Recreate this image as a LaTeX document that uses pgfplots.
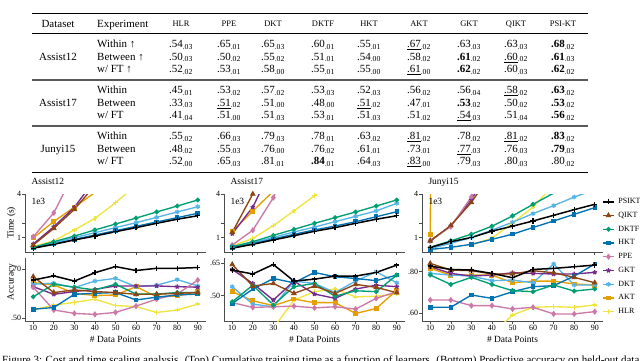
\documentclass[border=0pt]{standalone}
\usepackage{fontspec}
\setmainfont{Liberation Serif}
\usepackage{pgfplots}
\pgfplotsset{compat=1.18}

\definecolor{cPSI}{RGB}{0,0,0}
\definecolor{cQIKT}{RGB}{140,70,20}
\definecolor{cDKTF}{RGB}{0,158,115}
\definecolor{cHKT}{RGB}{0,114,178}
\definecolor{cPPE}{RGB}{204,121,167}
\definecolor{cGKT}{RGB}{118,42,140}
\definecolor{cDKT}{RGB}{86,180,233}
\definecolor{cAKT}{RGB}{230,159,0}
\definecolor{cHLR}{RGB}{240,228,66}

\pgfplotsset{
  ktline/.style={line width=1.35bp},
  sPSI/.style={cPSI, line width=1.5bp, mark=+, mark size=2.6bp, mark options={line width=1.4bp, solid}},
  sQIKT/.style={cQIKT, ktline, mark=triangle*, mark size=2.1bp},
  sDKTF/.style={cDKTF, ktline, mark=*, mark size=1.7bp},
  sHKT/.style={cHKT, ktline, mark=square*, mark size=1.6bp},
  sPPE/.style={cPPE, ktline, mark=diamond*, mark size=2.1bp},
  sGKT/.style={cGKT, ktline, mark=star, mark size=2.3bp},
  sDKT/.style={cDKT, ktline, mark=asterisk, mark size=2.3bp},
  sAKT/.style={cAKT, ktline, mark=square*, mark size=1.8bp},
  sHLR/.style={cHLR, ktline, mark=+, mark size=2.3bp},
  base/.style={
    scale only axis, width=181bp,
    xmin=6, xmax=94,
    axis x line*=bottom, axis y line*=left,
    axis line style={draw=black!70, line width=0.6bp},
    tick style={draw=black!70, line width=0.6bp},
    tick align=outside, major tick length=3bp,
    xtick={10,20,...,90},
    ticklabel style={font=\fontsize{8}{9}\selectfont},
    /pgf/number format/assume math mode=true,
    xticklabel style={inner sep=1bp},
    yticklabel style={inner sep=0.8bp},
    every axis y label/.style={at={(axis description cs:-0.075,0.5)}, rotate=90, anchor=center, font=\fontsize{9.5}{11}\selectfont},
    every axis x label/.style={at={(axis description cs:0.5,0)}, anchor=center, yshift=-18bp, font=\fontsize{9.5}{11}\selectfont},
    title style={at={(axis description cs:0.035,1)}, anchor=base west, yshift=3.5bp, inner sep=0pt, font=\fontsize{9.5}{11}\selectfont},
    clip=true,
  },
  timeax/.style={base, height=58bp, ymin=0, ymax=4, ytick={1,2,4}, yticklabels={1,,4}, xticklabels={},
    extra description/.code={\node[anchor=west, inner sep=0pt, font=\fontsize{9.5}{11}\selectfont] at (axis description cs:0.035,0.867) {1e3};}},
  accax/.style={base, height=63bp, xlabel={\# Data Points}},
}

\newcommand\V[2]{#1\textsubscript{#2}}
\tikzset{tv/.style={font=\fontsize{11}{13}\selectfont, inner sep=0pt, anchor=base},
         th/.style={font=\fontsize{8.5}{10}\selectfont, inner sep=0pt, anchor=base}}
\newcommand\R[9]{%
  \node[tv] at (181,\ry) {#1};
  \node[tv] at (229,\ry) {#2};
  \node[tv] at (273,\ry) {#3};
  \node[tv] at (323,\ry) {#4};
  \node[tv] at (369,\ry) {#5};
  \node[tv] at (419,\ry) {#6};
  \node[tv] at (469,\ry) {#7};
  \node[tv] at (516,\ry) {#8};
  \node[tv] at (563,\ry) {#9};}

\begin{document}
\begin{tikzpicture}
\path[use as bounding box] (0bp,0bp) rectangle (640bp,-361bp);
\clip (0bp,0bp) rectangle (640bp,-361bp);

% ---------- table ----------
\begin{scope}[x=1bp,y=1bp]
\draw[line width=1bp] (32,-13.3) -- (588,-13.3);
\draw[line width=0.5bp] (32,-33) -- (588,-33);
\draw[line width=1.3bp, black!65] (32,-80) -- (588,-80);
\draw[line width=1.3bp, black!65] (32,-126) -- (588,-126);
\draw[line width=1bp] (32,-172) -- (588,-172);

\node[tv] at (58,-27.7) {Dataset};
\node[tv, anchor=base west] at (97,-27.7) {Experiment};
\node[th] at (181,-26.8) {HLR};
\node[th] at (229,-26.8) {PPE};
\node[th] at (273,-26.8) {DKT};
\node[th] at (323,-26.8) {DKTF};
\node[th] at (369,-26.8) {HKT};
\node[th] at (419,-26.8) {AKT};
\node[th] at (469,-26.8) {GKT};
\node[th] at (516,-26.8) {QIKT};
\node[th] at (563,-26.8) {PSI-KT};

\node[tv] at (58,-60.2) {Assist12};
\node[tv, anchor=base west] at (97,-47.7) {Within ↑};
\node[tv, anchor=base west] at (97,-60.2) {Between ↑};
\node[tv, anchor=base west] at (97,-72.7) {w/ FT ↑};
\def\ry{-47.7}
\R{\V{.54}{.03}}{\V{.65}{.01}}{\V{.65}{.03}}{\V{.60}{.01}}{\V{.55}{.01}}{\V{\underline{.67}}{.02}}{\V{.63}{.03}}{\V{.63}{.03}}{\V{\textbf{.68}}{.02}}
\def\ry{-60.2}
\R{\V{.50}{.03}}{\V{.50}{.02}}{\V{.55}{.02}}{\V{.51}{.01}}{\V{.54}{.00}}{\V{.58}{.02}}{\V{\textbf{.61}}{.02}}{\V{\underline{.60}}{.02}}{\V{\textbf{.61}}{.03}}
\def\ry{-72.7}
\R{\V{.52}{.02}}{\V{.53}{.01}}{\V{.58}{.00}}{\V{.55}{.01}}{\V{.55}{.00}}{\V{\underline{.61}}{.00}}{\V{\textbf{.62}}{.02}}{\V{.60}{.03}}{\V{\textbf{.62}}{.02}}

\node[tv] at (58,-106.2) {Assist17};
\node[tv, anchor=base west] at (97,-93.7) {Within};
\node[tv, anchor=base west] at (97,-106.2) {Between};
\node[tv, anchor=base west] at (97,-118.7) {w/ FT};
\def\ry{-93.7}
\R{\V{.45}{.01}}{\V{.53}{.02}}{\V{.57}{.02}}{\V{.53}{.03}}{\V{.52}{.03}}{\V{.56}{.02}}{\V{.56}{.04}}{\V{\underline{.58}}{.02}}{\V{\textbf{.63}}{.02}}
\def\ry{-106.2}
\R{\V{.33}{.03}}{\V{\underline{.51}}{.02}}{\V{.51}{.00}}{\V{.48}{.00}}{\V{\underline{.51}}{.02}}{\V{.47}{.01}}{\V{\textbf{.53}}{.02}}{\V{.50}{.02}}{\V{\textbf{.53}}{.02}}
\def\ry{-118.7}
\R{\V{.41}{.04}}{\V{.51}{.00}}{\V{.51}{.03}}{\V{.53}{.01}}{\V{.51}{.03}}{\V{.51}{.02}}{\V{\underline{.54}}{.03}}{\V{.51}{.04}}{\V{\textbf{.56}}{.02}}

\node[tv] at (58,-152.2) {Junyi15};
\node[tv, anchor=base west] at (97,-139.7) {Within};
\node[tv, anchor=base west] at (97,-152.2) {Between};
\node[tv, anchor=base west] at (97,-164.7) {w/ FT};
\def\ry{-139.7}
\R{\V{.55}{.02}}{\V{.66}{.03}}{\V{.79}{.03}}{\V{.78}{.01}}{\V{.63}{.02}}{\V{\underline{.81}}{.02}}{\V{.78}{.02}}{\V{\underline{.81}}{.02}}{\V{\textbf{.83}}{.02}}
\def\ry{-152.2}
\R{\V{.48}{.02}}{\V{.55}{.03}}{\V{.76}{.00}}{\V{.76}{.02}}{\V{.61}{.01}}{\V{.73}{.01}}{\V{\underline{.77}}{.03}}{\V{.76}{.03}}{\V{\textbf{.79}}{.03}}
\def\ry{-164.7}
\R{\V{.52}{.00}}{\V{.65}{.03}}{\V{.81}{.01}}{\V{\textbf{.84}}{.01}}{\V{.64}{.03}}{\V{\underline{.83}}{.00}}{\V{.79}{.03}}{\V{.80}{.03}}{\V{.80}{.02}}
\end{scope}

% ---------- Assist12 ----------
\begin{axis}[timeax, at={(25bp,-194bp)}, anchor=north west, title={Assist12}, ylabel={Time (s)}]
\addplot[sHLR] coordinates {(10,0.37)(20,0.78)(30,1.52)(40,2.32)(50,3.40)(60,4.6)};
\addplot[sAKT] coordinates {(10,0.97)(20,2.1)(30,3.1)(40,4.1)(50,5.5)};
\addplot[sDKT] coordinates {(10,0.30)(20,0.64)(30,0.99)(40,1.33)(50,1.68)(60,2.02)(70,2.39)(80,2.76)(90,3.12)};
\addplot[sGKT] coordinates {(10,0.55)(20,1.74)(30,3.08)(40,5.0)};
\addplot[sPPE] coordinates {(10,1.05)(20,2.7)(30,5.5)};
\addplot[sHKT] coordinates {(10,0.28)(20,0.55)(30,0.87)(40,1.17)(50,1.47)(60,1.77)(70,2.07)(80,2.37)(90,2.67)};
\addplot[sDKTF] coordinates {(10,0.32)(20,0.71)(30,1.10)(40,1.52)(50,1.93)(60,2.34)(70,2.76)(80,3.17)(90,3.59)};
\addplot[sQIKT] coordinates {(10,0.48)(20,1.63)(30,2.94)(40,4.6)};
\addplot[sPSI] coordinates {(10,0.26)(20,0.53)(30,0.83)(40,1.10)(50,1.40)(60,1.68)(70,1.98)(80,2.26)(90,2.50)};
\end{axis}

\begin{axis}[accax, at={(25bp,-258bp)}, anchor=north west, ymin=0.489, ymax=0.746, ytick={0.5,0.7}, yticklabels={.50,.70},
  ylabel={Accuracy}, every axis y label/.style={at={(axis description cs:-0.075,0.62)}, rotate=90, anchor=center, font=\fontsize{9.5}{11}\selectfont}]
\addplot[sHLR] coordinates {(10,0.534)(20,0.554)(30,0.565)(40,0.578)(50,0.552)(60,0.548)(70,0.524)(80,0.534)(90,0.558)};
\addplot[sAKT] coordinates {(10,0.646)(20,0.636)(30,0.602)(40,0.593)(50,0.595)(60,0.629)(70,0.588)(80,0.591)(90,0.609)};
\addplot[sDKT] coordinates {(10,0.639)(20,0.643)(30,0.625)(40,0.652)(50,0.663)(60,0.629)(70,0.635)(80,0.658)(90,0.632)};
\addplot[sGKT] coordinates {(10,0.629)(20,0.598)(30,0.609)(40,0.618)(50,0.632)(60,0.632)(70,0.632)(80,0.629)(90,0.627)};
\addplot[sPPE] coordinates {(10,0.627)(20,0.534)(30,0.520)(40,0.516)(50,0.524)(60,0.550)(70,0.578)(80,0.599)(90,0.656)};
\addplot[sHKT] coordinates {(10,0.537)(20,0.544)(30,0.598)(40,0.602)(50,0.605)(60,0.575)(70,0.586)(80,0.595)(90,0.599)};
\addplot[sDKTF] coordinates {(10,0.588)(20,0.639)(30,0.627)(40,0.616)(50,0.639)(60,0.599)(70,0.599)(80,0.605)(90,0.605)};
\addplot[sQIKT] coordinates {(10,0.670)(20,0.605)(30,0.616)(40,0.609)(50,0.605)(60,0.598)(70,0.598)(80,0.602)(90,0.605)};
\addplot[sPSI] coordinates {(10,0.656)(20,0.673)(30,0.652)(40,0.686)(50,0.711)(60,0.695)(70,0.704)(80,0.704)(90,0.707)};
\end{axis}

% ---------- Assist17 ----------
\begin{axis}[timeax, at={(224bp,-194bp)}, anchor=north west, title={Assist17}]
\addplot[sHLR] coordinates {(10,0.41)(20,0.93)(30,1.82)(40,2.84)(50,3.88)(60,4.9)};
\addplot[sAKT] coordinates {(10,1.42)(20,2.82)(30,4.2)};
\addplot[sDKT] coordinates {(10,0.32)(20,0.64)(30,1.01)(40,1.38)(50,1.72)(60,2.09)(70,2.46)(80,2.83)(90,3.36)};
\addplot[sGKT] coordinates {(10,1.26)(20,3.1)(30,6)};
\addplot[sPPE] coordinates {(10,0.48)(20,1.5)(30,3.75)(40,7)};
\addplot[sHKT] coordinates {(10,0.30)(20,0.57)(30,0.90)(40,1.22)(50,1.52)(60,1.79)(70,2.09)(80,2.43)(90,2.78)};
\addplot[sDKTF] coordinates {(10,0.37)(20,0.71)(30,1.15)(40,1.56)(50,1.98)(60,2.37)(70,2.76)(80,3.17)(90,3.59)};
\addplot[sQIKT] coordinates {(10,1.35)(20,4.0)(30,7)};
\addplot[sPSI] coordinates {(10,0.26)(20,0.53)(30,0.83)(40,1.12)(50,1.43)(60,1.68)(70,1.98)(80,2.26)(90,2.50)};
\end{axis}

\begin{axis}[accax, at={(224bp,-258bp)}, anchor=north west, ymin=0.383, ymax=0.675, ytick={0.5,0.65}, yticklabels={.50,.65}]
\addplot[sHLR] coordinates {(30,0.35)(40,0.480)(50,0.519)(60,0.531)(70,0.495)(80,0.498)(90,0.508)};
\addplot[sAKT] coordinates {(10,0.519)(20,0.477)(30,0.454)(40,0.485)(50,0.468)(60,0.468)(70,0.418)(80,0.441)(90,0.526)};
\addplot[sDKT] coordinates {(10,0.542)(20,0.461)(30,0.449)(40,0.568)(50,0.557)(60,0.515)(70,0.568)(80,0.611)(90,0.560)};
\addplot[sGKT] coordinates {(10,0.622)(20,0.557)(30,0.480)(40,0.568)(50,0.508)(60,0.488)(70,0.531)(80,0.549)(90,0.542)};
\addplot[sPPE] coordinates {(10,0.468)(20,0.446)(30,0.449)(40,0.452)(50,0.444)(60,0.449)(70,0.438)(80,0.488)(90,0.519)};
\addplot[sHKT] coordinates {(10,0.464)(20,0.531)(30,0.580)(40,0.560)(50,0.608)(60,0.588)(70,0.580)(80,0.570)(90,0.596)};
\addplot[sDKTF] coordinates {(10,0.472)(20,0.549)(30,0.457)(40,0.542)(50,0.557)(60,0.498)(70,0.523)(80,0.519)(90,0.596)};
\addplot[sQIKT] coordinates {(10,0.645)(20,0.545)(30,0.557)(40,0.511)(50,0.545)(60,0.511)(70,0.553)(80,0.539)(90,0.514)};
\addplot[sPSI] coordinates {(10,0.619)(20,0.601)(30,0.645)(40,0.568)(50,0.577)(60,0.591)(70,0.591)(80,0.608)(90,0.642)};
\end{axis}

% ---------- Junyi15 ----------
\begin{axis}[timeax, at={(422bp,-194bp)}, anchor=north west, title={Junyi15},
  reverse legend, legend cell align=left,
  legend image code/.code={\draw[mark repeat=2,mark phase=2,#1] plot coordinates {(0bp,0bp)(5.2bp,0bp)(10.4bp,0bp)};},
  legend style={at={(axis description cs:1,1)}, anchor=north west, xshift=-0.5bp, yshift=-4bp,
    draw=none, fill=none, inner sep=0pt, outer sep=0pt, row sep=6.25bp,
    font=\fontsize{8}{9}\selectfont,
    nodes={inner sep=0pt, text height=5.5bp, text depth=2bp},
    /tikz/every odd column/.append style={column sep=4bp}}]
\addplot[sHLR] coordinates {(30,0.5)(40,0.95)(50,2.0)(60,3.1)(70,4.6)};
\addlegendentry{HLR}
\addplot[sAKT] coordinates {(10,1.2)(20,200)};
\addlegendentry{AKT}
\addplot[sDKT] coordinates {(10,0.23)(20,0.60)(30,1.0)(40,1.51)(50,2.05)(60,2.65)(70,3.2)(80,3.79)(90,4.3)};
\addlegendentry{DKT}
\addplot[sGKT] coordinates {(10,0.75)(20,1.8)(30,3.6)(40,6)};
\addlegendentry{GKT}
\addplot[sPPE] coordinates {(10,0.8)(20,1.75)(30,3.8)(40,6)};
\addlegendentry{PPE}
\addplot[sHKT] coordinates {(10,0.18)(20,0.32)(30,0.53)(40,0.87)(50,1.23)(60,1.69)(70,2.14)(80,2.60)(90,3.06)};
\addlegendentry{HKT}
\addplot[sDKTF] coordinates {(10,0.32)(20,0.77)(30,1.23)(40,1.78)(50,2.49)(60,3.29)(70,4.06)(80,5.0)};
\addlegendentry{DKTF}
\addplot[sQIKT] coordinates {(10,0.77)(20,1.83)(30,3.42)(40,5.5)};
\addlegendentry{QIKT}
\addplot[sPSI] coordinates {(10,0.32)(20,0.71)(30,1.0)(40,1.44)(50,1.78)(60,2.14)(70,2.53)(80,2.92)(90,3.29)};
\addlegendentry{PSIKT}
\end{axis}

\begin{axis}[accax, at={(422bp,-258bp)}, anchor=north west, ymin=0.563, ymax=0.866, ytick={0.6,0.8}, yticklabels={.60,.80}]
\addplot[sHLR] coordinates {(40,0.50)(50,0.592)(60,0.629)(70,0.632)(80,0.629)(90,0.640)};
\addplot[sAKT] coordinates {(10,0.816)(20,0.784)(30,0.784)(40,0.784)(50,0.747)(60,0.755)(70,0.755)(80,0.741)(90,0.736)};
\addplot[sDKT] coordinates {(10,0.792)(20,0.784)(30,0.779)(40,0.757)(50,0.760)(60,0.747)(70,0.837)(80,0.736)(90,0.736)};
\addplot[sGKT] coordinates {(10,0.824)(20,0.792)(30,0.779)(40,0.784)(50,0.795)(60,0.792)(70,0.789)(80,0.789)(90,0.797)};
\addplot[sPPE] coordinates {(10,0.664)(20,0.664)(30,0.637)(40,0.637)(50,0.621)(60,0.629)(70,0.597)(80,0.597)(90,0.608)};
\addplot[sHKT] coordinates {(10,0.629)(20,0.629)(30,0.688)(40,0.672)(50,0.704)(60,0.728)(70,0.733)(80,0.779)(90,0.837)};
\addplot[sDKTF] coordinates {(10,0.784)(20,0.739)(30,0.773)(40,0.739)(50,0.709)(60,0.704)(70,0.736)(80,0.707)(90,0.717)};
\addplot[sQIKT] coordinates {(10,0.840)(20,0.808)(30,0.805)(40,0.789)(50,0.789)(60,0.805)(70,0.795)(80,0.773)(90,0.747)};
\addplot[sPSI] coordinates {(10,0.827)(20,0.811)(30,0.808)(40,0.792)(50,0.771)(60,0.811)(70,0.816)(80,0.824)(90,0.832)};
\end{axis}

% ---------- caption (cut off by the page edge, as in the reference) ----------
\node[anchor=base west, inner sep=0pt, font=\fontsize{11}{13}\selectfont] at (2bp,-363.5bp)
  {Figure 3: Cost and time scaling analysis. (Top) Cumulative training time as a function of learners. (Bottom) Predictive accuracy on held-out data points.};
\end{tikzpicture}
\end{document}
